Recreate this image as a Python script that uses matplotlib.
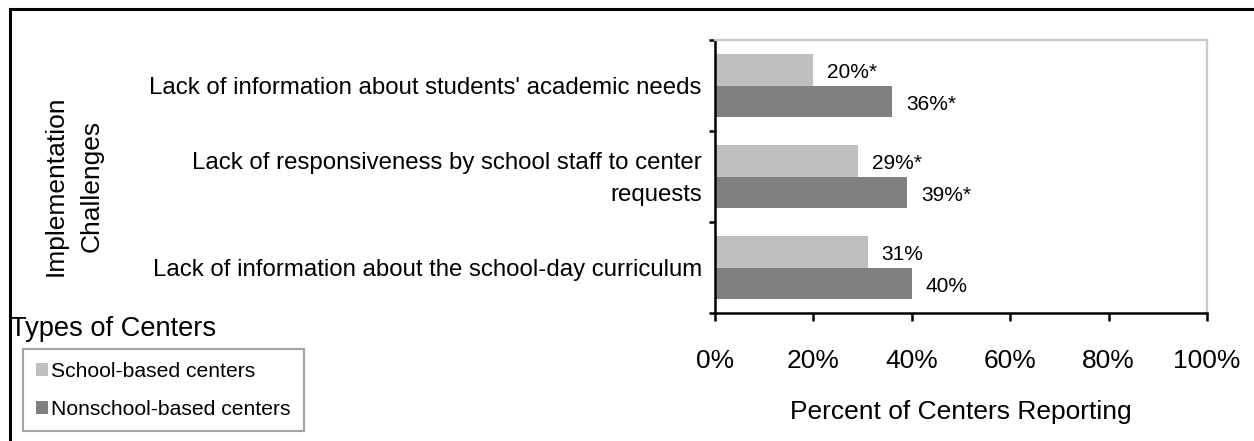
import matplotlib
matplotlib.use("Agg")
import matplotlib.pyplot as plt
import matplotlib.transforms as mtransforms
from matplotlib.patches import Rectangle, Patch
import numpy as np

plt.rcParams['font.family'] = ['Liberation Sans', 'DejaVu Sans']

categories = [
    "Lack of information about students' academic needs",
    "Lack of responsiveness by school staff to center\nrequests",
    "Lack of information about the school-day curriculum",
]
series_names = ["School-based centers", "Nonschool-based centers"]
school_based = [20, 29, 31]
nonschool_based = [36, 39, 40]
school_labels = ["20%*", "29%*", "31%"]
nonschool_labels = ["36%*", "39%*", "40%"]
x_ticks = [0, 20, 40, 60, 80, 100]
x_tick_labels = ["0%", "20%", "40%", "60%", "80%", "100%"]

light = "#BFBFBF"
dark = "#808080"

W, H = 1254, 441
fig = plt.figure(figsize=(W / 100, H / 100), dpi=100)

# outer chart frame (runs off the right and bottom edges)
fig.patches.append(Rectangle((9.5 / W, -0.05), 1.2, 1 - 9 / H + 0.05,
                             transform=fig.transFigure, fill=False,
                             edgecolor="black", linewidth=2.2))

ax = fig.add_axes([715 / W, 1 - 313 / H, 492 / W, 273 / H])

y = np.arange(len(categories))
h = 0.345
ax.barh(y - h / 2, school_based, height=h, color=light, label=series_names[0])
ax.barh(y + h / 2, nonschool_based, height=h, color=dark, label=series_names[1])

for yi, v, lab in zip(y - h / 2, school_based, school_labels):
    ax.annotate(lab, (v, yi), xytext=(14, -3), textcoords="offset pixels",
                ha="left", va="center", fontsize=15)
for yi, v, lab in zip(y + h / 2, nonschool_based, nonschool_labels):
    ax.annotate(lab, (v, yi), xytext=(14, -3), textcoords="offset pixels",
                ha="left", va="center", fontsize=15)

ax.set_xlim(0, 100)
ax.set_ylim(len(categories) - 0.5, -0.5)
ax.set_xticks(x_ticks)
ax.set_xticklabels(x_tick_labels, fontsize=19)
ax.set_yticks(y)
ax.set_yticklabels(categories, fontsize=17.25, ha="right", va="center",
                   linespacing=1.55)
ax.set_yticks(np.arange(-0.5, len(categories), 1.0), minor=True)
ax.tick_params(axis="y", which="major", length=0, pad=9.5)
ax.tick_params(axis="y", which="minor", length=4, width=1.8, direction="out")
ax.tick_params(axis="x", which="major", length=6, width=1.8, direction="out", pad=20)

# nudge category labels slightly downward
shift = mtransforms.ScaledTranslation(0, -2.5 / 100, fig.dpi_scale_trans)
for lbl in ax.get_yticklabels():
    lbl.set_transform(lbl.get_transform() + shift)

for s in ("top", "right"):
    ax.spines[s].set_color("#C8C8C8")
    ax.spines[s].set_linewidth(1.6)
for s in ("left", "bottom"):
    ax.spines[s].set_color("black")
    ax.spines[s].set_linewidth(1.8)

ax.set_xlabel("Percent of Centers Reporting", fontsize=19, labelpad=19)

fig.text(73.5 / W, 1 - 186 / H, "Implementation\nChallenges", rotation=90,
         ha="center", va="center", multialignment="center", fontsize=19,
         linespacing=1.6)

fig.text(10 / W, 1 - 329 / H, "Types of Centers", ha="left", va="center",
         fontsize=19.6)

handles = [Patch(facecolor=light, edgecolor="none"),
           Patch(facecolor=dark, edgecolor="none")]
leg = fig.legend(handles, series_names, loc="upper left",
                 bbox_to_anchor=(23 / W, 1 - 349 / H), borderaxespad=0,
                 fontsize=15.2, frameon=True, fancybox=False,
                 edgecolor="#8C8C8C", handlelength=0.6, handleheight=0.6,
                 handletextpad=0.15, labelspacing=0.9, borderpad=0.6)
leg.get_frame().set_linewidth(1.5)

fig.savefig("out.png", dpi=100)
